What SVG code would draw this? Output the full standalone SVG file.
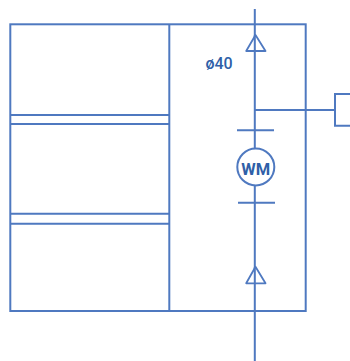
<svg xmlns="http://www.w3.org/2000/svg" width="350" height="361" viewBox="0 0 350 361">
<style>
.l{fill:none;stroke:#4f79c0;stroke-width:2}
.t{fill:#fff;stroke:#4f79c0;stroke-width:1.8;stroke-linejoin:round}
.x{font-family:Roboto,"Liberation Sans",Arial,sans-serif;fill:#2f5fa8}
</style>
<rect width="350" height="361" fill="#fff"/>
<g id="housing">
<rect class="l" x="10.300" y="24.300" width="295.400" height="286.700"/>
<path class="l" d="M169.300 24.300V311"/>
</g>
<g id="compartments">
<path class="l" d="M10.300 115H169.300M10.300 124H169.300M10.300 213.700H169.300M10.300 223.700H169.300"/>
</g>
<g id="connectors">
<path class="l" d="M254.800 9V148M254.800 186V361M254.800 110H335"/>
<path class="l" d="M237 130.300H274M238 202.700H275"/>
</g>
<g id="valve-top"><path class="t" d="M255.500 35L246.200 51H265.500Z"/><path class="l" d="M254.800 35V51"/></g>
<g id="valve-bottom"><path class="t" d="M255.500 266.700L246.200 283.300H265.500Z"/><path class="l" d="M254.800 267V284"/></g>
<g id="meter">
<circle class="l" cx="255.800" cy="167" r="18.500" fill="#fff"/>
<text class="x" x="255.800" y="174.500" text-anchor="middle" font-size="16.500" font-weight="700">WM</text>
</g>
<g id="box"><path class="l" d="M350 94H335V125.700H350"/></g>
<g id="label"><text class="x" x="219" y="68.500" text-anchor="middle" font-size="16" font-weight="500">ø40</text></g>
</svg>
